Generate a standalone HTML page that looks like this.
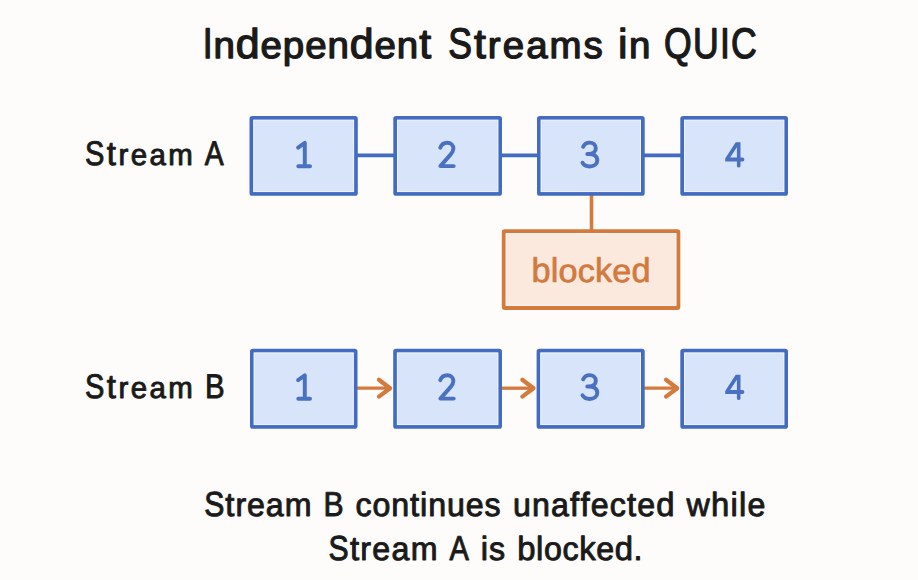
<!DOCTYPE html>
<html><head><meta charset="utf-8">
<style>
html,body{margin:0;padding:0;background:#fdfcfa;width:918px;height:580px;overflow:hidden}
svg{display:block}
text{font-family:"Liberation Sans",sans-serif;text-rendering:geometricPrecision}
</style></head>
<body>
<svg width="918" height="580" viewBox="0 0 918 580">
<rect x="0" y="0" width="918" height="580" fill="#fdfcfa"/>
<text x="202.66" y="58.1" font-size="42.9" transform="matrix(0.8300 0 0 1 34.453 0)" fill="#1a1a1a" stroke="#1a1a1a" stroke-width="1.3" stroke-linejoin="round">I</text>
<text x="213.49" y="58.1" font-size="37.3" transform="matrix(1.0300 0 0 1 -6.405 0)" fill="#1a1a1a" stroke="#1a1a1a" stroke-width="1.3" stroke-linejoin="round">n</text>
<text x="235.80" y="58.1" font-size="41.6" transform="matrix(1.0300 0 0 1 -7.074 0)" fill="#1a1a1a" stroke="#1a1a1a" stroke-width="1.3" stroke-linejoin="round">d</text>
<text x="260.57" y="58.1" font-size="37.3" transform="matrix(1.0300 0 0 1 -7.817 0)" fill="#1a1a1a" stroke="#1a1a1a" stroke-width="1.3" stroke-linejoin="round">e</text>
<text x="282.87" y="58.1" font-size="37.3" transform="matrix(1.0300 0 0 1 -8.486 0)" fill="#1a1a1a" stroke="#1a1a1a" stroke-width="1.3" stroke-linejoin="round">p</text>
<text x="305.17" y="58.1" font-size="37.3" transform="matrix(1.0300 0 0 1 -9.155 0)" fill="#1a1a1a" stroke="#1a1a1a" stroke-width="1.3" stroke-linejoin="round">e</text>
<text x="327.48" y="58.1" font-size="37.3" transform="matrix(1.0300 0 0 1 -9.824 0)" fill="#1a1a1a" stroke="#1a1a1a" stroke-width="1.3" stroke-linejoin="round">n</text>
<text x="349.78" y="58.1" font-size="41.6" transform="matrix(1.0300 0 0 1 -10.493 0)" fill="#1a1a1a" stroke="#1a1a1a" stroke-width="1.3" stroke-linejoin="round">d</text>
<text x="374.55" y="58.1" font-size="37.3" transform="matrix(1.0300 0 0 1 -11.237 0)" fill="#1a1a1a" stroke="#1a1a1a" stroke-width="1.3" stroke-linejoin="round">e</text>
<text x="396.85" y="58.1" font-size="37.3" transform="matrix(1.0300 0 0 1 -11.906 0)" fill="#1a1a1a" stroke="#1a1a1a" stroke-width="1.3" stroke-linejoin="round">n</text>
<text x="419.16" y="58.1" font-size="41.6" transform="matrix(1.0300 0 0 1 -12.575 0)" fill="#1a1a1a" stroke="#1a1a1a" stroke-width="1.3" stroke-linejoin="round">t</text>
<text x="448.13" y="58.1" font-size="42.9" transform="matrix(0.8300 0 0 1 76.183 0)" fill="#1a1a1a" stroke="#1a1a1a" stroke-width="1.3" stroke-linejoin="round">S</text>
<text x="473.93" y="58.1" font-size="41.6" transform="matrix(1.0300 0 0 1 -14.218 0)" fill="#1a1a1a" stroke="#1a1a1a" stroke-width="1.3" stroke-linejoin="round">t</text>
<text x="487.89" y="58.1" font-size="37.3" transform="matrix(1.0300 0 0 1 -14.637 0)" fill="#1a1a1a" stroke="#1a1a1a" stroke-width="1.3" stroke-linejoin="round">r</text>
<text x="502.74" y="58.1" font-size="37.3" transform="matrix(1.0300 0 0 1 -15.082 0)" fill="#1a1a1a" stroke="#1a1a1a" stroke-width="1.3" stroke-linejoin="round">e</text>
<text x="526.15" y="58.1" font-size="37.3" transform="matrix(1.0300 0 0 1 -15.785 0)" fill="#1a1a1a" stroke="#1a1a1a" stroke-width="1.3" stroke-linejoin="round">a</text>
<text x="549.57" y="58.1" font-size="37.3" transform="matrix(1.0300 0 0 1 -16.487 0)" fill="#1a1a1a" stroke="#1a1a1a" stroke-width="1.3" stroke-linejoin="round">m</text>
<text x="583.63" y="58.1" font-size="37.3" transform="matrix(1.0300 0 0 1 -17.509 0)" fill="#1a1a1a" stroke="#1a1a1a" stroke-width="1.3" stroke-linejoin="round">s</text>
<text x="618.08" y="58.1" font-size="41.6" transform="matrix(1.0300 0 0 1 -18.543 0)" fill="#1a1a1a" stroke="#1a1a1a" stroke-width="1.3" stroke-linejoin="round">i</text>
<text x="628.88" y="58.1" font-size="37.3" transform="matrix(1.0300 0 0 1 -18.866 0)" fill="#1a1a1a" stroke="#1a1a1a" stroke-width="1.3" stroke-linejoin="round">n</text>
<text x="664.06" y="58.1" font-size="42.9" transform="matrix(0.8300 0 0 1 112.891 0)" fill="#1a1a1a" stroke="#1a1a1a" stroke-width="1.3" stroke-linejoin="round">Q</text>
<text x="693.00" y="58.1" font-size="42.9" transform="matrix(0.8300 0 0 1 117.810 0)" fill="#1a1a1a" stroke="#1a1a1a" stroke-width="1.3" stroke-linejoin="round">U</text>
<text x="719.96" y="58.1" font-size="42.9" transform="matrix(0.8300 0 0 1 122.393 0)" fill="#1a1a1a" stroke="#1a1a1a" stroke-width="1.3" stroke-linejoin="round">I</text>
<text x="731.09" y="58.1" font-size="42.9" transform="matrix(0.8300 0 0 1 124.286 0)" fill="#1a1a1a" stroke="#1a1a1a" stroke-width="1.3" stroke-linejoin="round">C</text>
<text x="84.96" y="164.85" font-size="34.15" transform="matrix(0.8500 0 0 1 12.744 0)" fill="#1a1a1a" stroke="#1a1a1a" stroke-width="0.95" stroke-linejoin="round">S</text>
<text x="106.78" y="164.85" font-size="33.7" transform="matrix(0.9800 0 0 1 2.136 0)" fill="#1a1a1a" stroke="#1a1a1a" stroke-width="0.95" stroke-linejoin="round">t</text>
<text x="118.41" y="164.85" font-size="30.0" transform="matrix(0.9800 0 0 1 2.368 0)" fill="#1a1a1a" stroke="#1a1a1a" stroke-width="0.95" stroke-linejoin="round">r</text>
<text x="130.66" y="164.85" font-size="30.0" transform="matrix(0.9800 0 0 1 2.613 0)" fill="#1a1a1a" stroke="#1a1a1a" stroke-width="0.95" stroke-linejoin="round">e</text>
<text x="149.46" y="164.85" font-size="30.0" transform="matrix(0.9800 0 0 1 2.989 0)" fill="#1a1a1a" stroke="#1a1a1a" stroke-width="0.95" stroke-linejoin="round">a</text>
<text x="168.27" y="164.85" font-size="30.0" transform="matrix(0.9800 0 0 1 3.365 0)" fill="#1a1a1a" stroke="#1a1a1a" stroke-width="0.95" stroke-linejoin="round">m</text>
<text x="204.72" y="164.85" font-size="34.15" transform="matrix(0.8280 0 0 1 35.208 0)" fill="#1a1a1a" stroke="#1a1a1a" stroke-width="0.95" stroke-linejoin="round">A</text>
<text x="84.96" y="397.7" font-size="34.15" transform="matrix(0.8500 0 0 1 12.744 0)" fill="#1a1a1a" stroke="#1a1a1a" stroke-width="0.95" stroke-linejoin="round">S</text>
<text x="106.78" y="397.7" font-size="33.7" transform="matrix(0.9800 0 0 1 2.136 0)" fill="#1a1a1a" stroke="#1a1a1a" stroke-width="0.95" stroke-linejoin="round">t</text>
<text x="118.41" y="397.7" font-size="30.0" transform="matrix(0.9800 0 0 1 2.368 0)" fill="#1a1a1a" stroke="#1a1a1a" stroke-width="0.95" stroke-linejoin="round">r</text>
<text x="130.66" y="397.7" font-size="30.0" transform="matrix(0.9800 0 0 1 2.613 0)" fill="#1a1a1a" stroke="#1a1a1a" stroke-width="0.95" stroke-linejoin="round">e</text>
<text x="149.46" y="397.7" font-size="30.0" transform="matrix(0.9800 0 0 1 2.989 0)" fill="#1a1a1a" stroke="#1a1a1a" stroke-width="0.95" stroke-linejoin="round">a</text>
<text x="168.27" y="397.7" font-size="30.0" transform="matrix(0.9800 0 0 1 3.365 0)" fill="#1a1a1a" stroke="#1a1a1a" stroke-width="0.95" stroke-linejoin="round">m</text>
<text x="204.96" y="397.7" font-size="34.15" transform="matrix(0.8610 0 0 1 28.480 0)" fill="#1a1a1a" stroke="#1a1a1a" stroke-width="0.95" stroke-linejoin="round">B</text>
<g stroke="#426bc1" stroke-width="3.6">
<line x1="356.8" y1="155.4" x2="394.3" y2="155.4"/>
<line x1="501" y1="155.4" x2="538" y2="155.4"/>
<line x1="643.7" y1="155.4" x2="681.3" y2="155.4"/>
</g>
<line x1="591.5" y1="194.8" x2="591.5" y2="230.2" stroke="#d47a3c" stroke-width="3.6"/>
<g fill="#d8e4f9" stroke="#426bc1" stroke-width="3.7">
<rect x="251.35" y="117.85" width="104.60" height="76.10" rx="1"/>
<rect x="395.15" y="117.85" width="105.00" height="76.10" rx="1"/>
<rect x="538.85" y="117.85" width="104.00" height="76.10" rx="1"/>
<rect x="682.15" y="117.85" width="104.00" height="76.10" rx="1"/>
</g>
<g fill="none" stroke="#f4f8ff" stroke-width="1.0" opacity="0.8">
<rect x="253.70" y="120.20" width="99.90" height="71.40"/>
<rect x="397.50" y="120.20" width="100.30" height="71.40"/>
<rect x="541.20" y="120.20" width="99.30" height="71.40"/>
<rect x="684.50" y="120.20" width="99.30" height="71.40"/>
</g>
<g transform="translate(0 0.0)" fill="none" stroke="#4a70c0" stroke-width="3.95" stroke-linecap="round" stroke-linejoin="round">
<path d="M298.1,147.7 L304.8,142.9 L304.8,166 M298.3,166.3 H310"/>
<path d="M440.3,147.6 C441.5,144.3 444.2,142.7 447.2,142.7 C450.8,142.7 453.4,145.2 453.4,148.6 C453.4,151 452.2,152.7 450.5,154.6 L440.4,166.1 H453.7"/>
<path d="M583.1,146.8 C584.5,144 586.8,142.6 589.5,142.6 C593.2,142.6 595.8,145 595.8,148.3 C595.8,151.8 593,154 588.8,154 H587.3 M588.8,154 C593.9,154 597.3,156.5 597.3,160.2 C597.3,164 594,166.4 589.6,166.4 C586.4,166.4 583.9,165.2 582.5,162.8"/>
<path d="M735.7,142.2 H740.5 V157.6 H742.4 A2.0,2.0 0 0 1 742.4,161.6 H740.5 V166.3 A1.95,1.95 0 0 1 736.9,166.3 V161.6 H725.6 A0.5,0.5 0 0 1 725.2,160.9 V158.4 Z M730.1,157.6 H736.9 V147.3 Z" fill="#4a70c0" stroke="none" fill-rule="evenodd"/>
</g>
<rect x="503.75" y="231.15" width="174.60" height="76.80" fill="#fbe9de" stroke="#d47a3c" stroke-width="3.9" rx="1"/>
<rect x="506.20" y="233.60" width="169.70" height="71.90" fill="none" stroke="#f4f8ff" stroke-width="1.0" opacity="0.8"/>
<text x="531.49" y="281.6" font-size="34.3" transform="matrix(1.0000 0 0 1 0.000 0)" fill="#d27a3e" stroke="#d27a3e" stroke-width="0.7" stroke-linejoin="round">b</text>
<text x="550.71" y="281.6" font-size="34.3" transform="matrix(1.0000 0 0 1 0.000 0)" fill="#d27a3e" stroke="#d27a3e" stroke-width="0.7" stroke-linejoin="round">l</text>
<text x="558.47" y="281.6" font-size="32.3" transform="matrix(1.0600 0 0 1 -33.508 0)" fill="#d27a3e" stroke="#d27a3e" stroke-width="0.7" stroke-linejoin="round">o</text>
<text x="577.65" y="281.6" font-size="32.3" transform="matrix(1.0600 0 0 1 -34.659 0)" fill="#d27a3e" stroke="#d27a3e" stroke-width="0.7" stroke-linejoin="round">c</text>
<text x="594.91" y="281.6" font-size="34.3" transform="matrix(1.0000 0 0 1 0.000 0)" fill="#d27a3e" stroke="#d27a3e" stroke-width="0.7" stroke-linejoin="round">k</text>
<text x="612.20" y="281.6" font-size="32.3" transform="matrix(1.0600 0 0 1 -36.732 0)" fill="#d27a3e" stroke="#d27a3e" stroke-width="0.7" stroke-linejoin="round">e</text>
<text x="631.38" y="281.6" font-size="34.3" transform="matrix(1.0000 0 0 1 0.000 0)" fill="#d27a3e" stroke="#d27a3e" stroke-width="0.7" stroke-linejoin="round">d</text>
<g stroke="#d47a3c" stroke-width="3.3" fill="none" stroke-linecap="round" stroke-linejoin="round">
<line x1="356.5" y1="388.2" x2="389.09999999999997" y2="388.2" stroke-linecap="butt"/>
<polyline stroke-width="4.2" points="378.9,379.8 390.09999999999997,388.2 378.9,396.59999999999997"/>
<line x1="501" y1="388.2" x2="532.5" y2="388.2" stroke-linecap="butt"/>
<polyline stroke-width="4.2" points="522.3,379.8 533.5,388.2 522.3,396.59999999999997"/>
<line x1="643.7" y1="388.2" x2="676.1999999999999" y2="388.2" stroke-linecap="butt"/>
<polyline stroke-width="4.2" points="665.9999999999999,379.8 677.1999999999999,388.2 665.9999999999999,396.59999999999997"/>
</g>
<g fill="#d8e4f9" stroke="#426bc1" stroke-width="3.7">
<rect x="251.85" y="350.65" width="103.80" height="76.30" rx="1"/>
<rect x="395.05" y="350.65" width="105.10" height="76.30" rx="1"/>
<rect x="538.45" y="350.65" width="104.40" height="76.30" rx="1"/>
<rect x="682.15" y="350.65" width="104.00" height="76.30" rx="1"/>
</g>
<g fill="none" stroke="#f4f8ff" stroke-width="1.0" opacity="0.8">
<rect x="254.20" y="353.00" width="99.10" height="71.60"/>
<rect x="397.40" y="353.00" width="100.40" height="71.60"/>
<rect x="540.80" y="353.00" width="99.70" height="71.60"/>
<rect x="684.50" y="353.00" width="99.30" height="71.60"/>
</g>
<g transform="translate(0 232.5)" fill="none" stroke="#4a70c0" stroke-width="3.95" stroke-linecap="round" stroke-linejoin="round">
<path d="M298.1,147.7 L304.8,142.9 L304.8,166 M298.3,166.3 H310"/>
<path d="M440.3,147.6 C441.5,144.3 444.2,142.7 447.2,142.7 C450.8,142.7 453.4,145.2 453.4,148.6 C453.4,151 452.2,152.7 450.5,154.6 L440.4,166.1 H453.7"/>
<path d="M583.1,146.8 C584.5,144 586.8,142.6 589.5,142.6 C593.2,142.6 595.8,145 595.8,148.3 C595.8,151.8 593,154 588.8,154 H587.3 M588.8,154 C593.9,154 597.3,156.5 597.3,160.2 C597.3,164 594,166.4 589.6,166.4 C586.4,166.4 583.9,165.2 582.5,162.8"/>
<path d="M735.7,142.2 H740.5 V157.6 H742.4 A2.0,2.0 0 0 1 742.4,161.6 H740.5 V166.3 A1.95,1.95 0 0 1 736.9,166.3 V161.6 H725.6 A0.5,0.5 0 0 1 725.2,160.9 V158.4 Z M730.1,157.6 H736.9 V147.3 Z" fill="#4a70c0" stroke="none" fill-rule="evenodd"/>
</g>
<text x="204.30" y="515.7" font-size="34.7" transform="matrix(0.8700 0 0 1 26.560 0)" fill="#1a1a1a" stroke="#1a1a1a" stroke-width="0.95" stroke-linejoin="round">S</text>
<text x="225.37" y="515.7" font-size="33.5" transform="matrix(0.9800 0 0 1 4.507 0)" fill="#1a1a1a" stroke="#1a1a1a" stroke-width="0.95" stroke-linejoin="round">t</text>
<text x="235.42" y="515.7" font-size="32.8" transform="matrix(0.9800 0 0 1 4.708 0)" fill="#1a1a1a" stroke="#1a1a1a" stroke-width="0.95" stroke-linejoin="round">r</text>
<text x="247.05" y="515.7" font-size="32.8" transform="matrix(0.9800 0 0 1 4.941 0)" fill="#1a1a1a" stroke="#1a1a1a" stroke-width="0.95" stroke-linejoin="round">e</text>
<text x="265.86" y="515.7" font-size="32.8" transform="matrix(0.9800 0 0 1 5.317 0)" fill="#1a1a1a" stroke="#1a1a1a" stroke-width="0.95" stroke-linejoin="round">a</text>
<text x="284.67" y="515.7" font-size="32.8" transform="matrix(0.9800 0 0 1 5.693 0)" fill="#1a1a1a" stroke="#1a1a1a" stroke-width="0.95" stroke-linejoin="round">m</text>
<text x="323.40" y="515.7" font-size="34.7" transform="matrix(0.8691 0 0 1 42.347 0)" fill="#1a1a1a" stroke="#1a1a1a" stroke-width="0.95" stroke-linejoin="round">B</text>
<text x="355.61" y="515.7" font-size="32.8" transform="matrix(0.9800 0 0 1 7.112 0)" fill="#1a1a1a" stroke="#1a1a1a" stroke-width="0.95" stroke-linejoin="round">c</text>
<text x="372.57" y="515.7" font-size="32.8" transform="matrix(0.9800 0 0 1 7.451 0)" fill="#1a1a1a" stroke="#1a1a1a" stroke-width="0.95" stroke-linejoin="round">o</text>
<text x="391.34" y="515.7" font-size="32.8" transform="matrix(0.9800 0 0 1 7.827 0)" fill="#1a1a1a" stroke="#1a1a1a" stroke-width="0.95" stroke-linejoin="round">n</text>
<text x="410.11" y="515.7" font-size="33.5" transform="matrix(0.9800 0 0 1 8.202 0)" fill="#1a1a1a" stroke="#1a1a1a" stroke-width="0.95" stroke-linejoin="round">t</text>
<text x="420.12" y="515.7" font-size="33.5" transform="matrix(0.9800 0 0 1 8.402 0)" fill="#1a1a1a" stroke="#1a1a1a" stroke-width="0.95" stroke-linejoin="round">i</text>
<text x="428.31" y="515.7" font-size="32.8" transform="matrix(0.9800 0 0 1 8.566 0)" fill="#1a1a1a" stroke="#1a1a1a" stroke-width="0.95" stroke-linejoin="round">n</text>
<text x="447.08" y="515.7" font-size="32.8" transform="matrix(0.9800 0 0 1 8.942 0)" fill="#1a1a1a" stroke="#1a1a1a" stroke-width="0.95" stroke-linejoin="round">u</text>
<text x="465.85" y="515.7" font-size="32.8" transform="matrix(0.9800 0 0 1 9.317 0)" fill="#1a1a1a" stroke="#1a1a1a" stroke-width="0.95" stroke-linejoin="round">e</text>
<text x="484.61" y="515.7" font-size="32.8" transform="matrix(0.9800 0 0 1 9.692 0)" fill="#1a1a1a" stroke="#1a1a1a" stroke-width="0.95" stroke-linejoin="round">s</text>
<text x="512.99" y="515.7" font-size="32.8" transform="matrix(0.9800 0 0 1 10.260 0)" fill="#1a1a1a" stroke="#1a1a1a" stroke-width="0.95" stroke-linejoin="round">u</text>
<text x="532.03" y="515.7" font-size="32.8" transform="matrix(0.9800 0 0 1 10.641 0)" fill="#1a1a1a" stroke="#1a1a1a" stroke-width="0.95" stroke-linejoin="round">n</text>
<text x="551.07" y="515.7" font-size="32.8" transform="matrix(0.9800 0 0 1 11.021 0)" fill="#1a1a1a" stroke="#1a1a1a" stroke-width="0.95" stroke-linejoin="round">a</text>
<text x="570.11" y="515.7" font-size="33.5" transform="matrix(0.9800 0 0 1 11.402 0)" fill="#1a1a1a" stroke="#1a1a1a" stroke-width="0.95" stroke-linejoin="round">f</text>
<text x="580.39" y="515.7" font-size="33.5" transform="matrix(0.9800 0 0 1 11.608 0)" fill="#1a1a1a" stroke="#1a1a1a" stroke-width="0.95" stroke-linejoin="round">f</text>
<text x="590.68" y="515.7" font-size="32.8" transform="matrix(0.9800 0 0 1 11.814 0)" fill="#1a1a1a" stroke="#1a1a1a" stroke-width="0.95" stroke-linejoin="round">e</text>
<text x="609.72" y="515.7" font-size="32.8" transform="matrix(0.9800 0 0 1 12.194 0)" fill="#1a1a1a" stroke="#1a1a1a" stroke-width="0.95" stroke-linejoin="round">c</text>
<text x="626.96" y="515.7" font-size="33.5" transform="matrix(0.9800 0 0 1 12.539 0)" fill="#1a1a1a" stroke="#1a1a1a" stroke-width="0.95" stroke-linejoin="round">t</text>
<text x="637.24" y="515.7" font-size="32.8" transform="matrix(0.9800 0 0 1 12.745 0)" fill="#1a1a1a" stroke="#1a1a1a" stroke-width="0.95" stroke-linejoin="round">e</text>
<text x="656.28" y="515.7" font-size="33.5" transform="matrix(0.9800 0 0 1 13.126 0)" fill="#1a1a1a" stroke="#1a1a1a" stroke-width="0.95" stroke-linejoin="round">d</text>
<text x="686.42" y="515.7" font-size="32.8" transform="matrix(0.9800 0 0 1 13.728 0)" fill="#1a1a1a" stroke="#1a1a1a" stroke-width="0.95" stroke-linejoin="round">w</text>
<text x="710.91" y="515.7" font-size="33.5" transform="matrix(0.9800 0 0 1 14.218 0)" fill="#1a1a1a" stroke="#1a1a1a" stroke-width="0.95" stroke-linejoin="round">h</text>
<text x="730.44" y="515.7" font-size="33.5" transform="matrix(0.9800 0 0 1 14.609 0)" fill="#1a1a1a" stroke="#1a1a1a" stroke-width="0.95" stroke-linejoin="round">i</text>
<text x="739.01" y="515.7" font-size="33.5" transform="matrix(0.9800 0 0 1 14.780 0)" fill="#1a1a1a" stroke="#1a1a1a" stroke-width="0.95" stroke-linejoin="round">l</text>
<text x="747.58" y="515.7" font-size="32.8" transform="matrix(0.9800 0 0 1 14.952 0)" fill="#1a1a1a" stroke="#1a1a1a" stroke-width="0.95" stroke-linejoin="round">e</text>
<text x="328.50" y="560.1" font-size="34.7" transform="matrix(0.8700 0 0 1 42.706 0)" fill="#1a1a1a" stroke="#1a1a1a" stroke-width="0.95" stroke-linejoin="round">S</text>
<text x="349.93" y="560.1" font-size="33.5" transform="matrix(0.9800 0 0 1 6.999 0)" fill="#1a1a1a" stroke="#1a1a1a" stroke-width="0.95" stroke-linejoin="round">t</text>
<text x="360.34" y="560.1" font-size="32.8" transform="matrix(0.9800 0 0 1 7.207 0)" fill="#1a1a1a" stroke="#1a1a1a" stroke-width="0.95" stroke-linejoin="round">r</text>
<text x="372.33" y="560.1" font-size="32.8" transform="matrix(0.9800 0 0 1 7.447 0)" fill="#1a1a1a" stroke="#1a1a1a" stroke-width="0.95" stroke-linejoin="round">e</text>
<text x="391.50" y="560.1" font-size="32.8" transform="matrix(0.9800 0 0 1 7.830 0)" fill="#1a1a1a" stroke="#1a1a1a" stroke-width="0.95" stroke-linejoin="round">a</text>
<text x="410.67" y="560.1" font-size="32.8" transform="matrix(0.9800 0 0 1 8.213 0)" fill="#1a1a1a" stroke="#1a1a1a" stroke-width="0.95" stroke-linejoin="round">m</text>
<text x="449.62" y="560.1" font-size="34.7" transform="matrix(0.8366 0 0 1 73.456 0)" fill="#1a1a1a" stroke="#1a1a1a" stroke-width="0.95" stroke-linejoin="round">A</text>
<text x="480.68" y="560.1" font-size="33.5" transform="matrix(0.9800 0 0 1 9.614 0)" fill="#1a1a1a" stroke="#1a1a1a" stroke-width="0.95" stroke-linejoin="round">i</text>
<text x="489.01" y="560.1" font-size="32.8" transform="matrix(0.9800 0 0 1 9.780 0)" fill="#1a1a1a" stroke="#1a1a1a" stroke-width="0.95" stroke-linejoin="round">s</text>
<text x="517.16" y="560.1" font-size="33.5" transform="matrix(0.9800 0 0 1 10.343 0)" fill="#1a1a1a" stroke="#1a1a1a" stroke-width="0.95" stroke-linejoin="round">b</text>
<text x="536.03" y="560.1" font-size="33.5" transform="matrix(0.9800 0 0 1 10.721 0)" fill="#1a1a1a" stroke="#1a1a1a" stroke-width="0.95" stroke-linejoin="round">l</text>
<text x="543.95" y="560.1" font-size="32.8" transform="matrix(0.9800 0 0 1 10.879 0)" fill="#1a1a1a" stroke="#1a1a1a" stroke-width="0.95" stroke-linejoin="round">o</text>
<text x="562.44" y="560.1" font-size="32.8" transform="matrix(0.9800 0 0 1 11.249 0)" fill="#1a1a1a" stroke="#1a1a1a" stroke-width="0.95" stroke-linejoin="round">c</text>
<text x="579.13" y="560.1" font-size="33.5" transform="matrix(0.9800 0 0 1 11.583 0)" fill="#1a1a1a" stroke="#1a1a1a" stroke-width="0.95" stroke-linejoin="round">k</text>
<text x="596.16" y="560.1" font-size="32.8" transform="matrix(0.9800 0 0 1 11.923 0)" fill="#1a1a1a" stroke="#1a1a1a" stroke-width="0.95" stroke-linejoin="round">e</text>
<text x="614.65" y="560.1" font-size="33.5" transform="matrix(0.9800 0 0 1 12.293 0)" fill="#1a1a1a" stroke="#1a1a1a" stroke-width="0.95" stroke-linejoin="round">d</text>
<text x="633.53" y="560.1" font-size="32.8" transform="matrix(0.9800 0 0 1 12.671 0)" fill="#1a1a1a" stroke="#1a1a1a" stroke-width="0.95" stroke-linejoin="round">.</text>
</svg>
</body></html>
